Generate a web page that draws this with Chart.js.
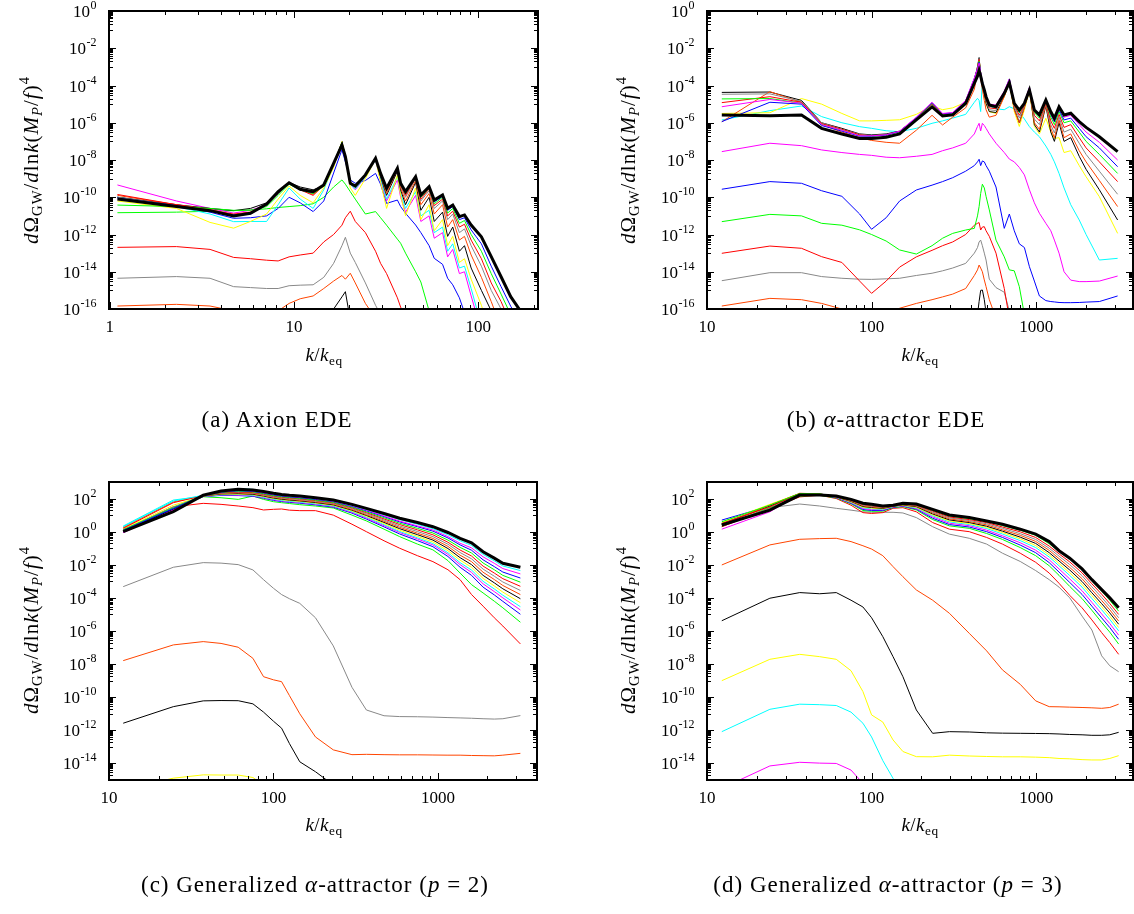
<!DOCTYPE html>
<html>
<head>
<meta charset="utf-8">
<script src="https://cdn.jsdelivr.net/npm/chart.js@4.4.0/dist/chart.umd.min.js"></script>
<style>
  body { margin: 0; background: #fff; width: 1134px; height: 914px; position: relative; overflow: hidden;
         font-family: "Liberation Serif", "DejaVu Serif", serif; color: #000; }
  canvas { position: absolute; }
  .ylab, .xlab, .cap { position: absolute; white-space: nowrap; transform: translate(-50%, -50%); }
  .ylab { font-size: 21px; letter-spacing: 1px; transform: translate(-50%, -50%) rotate(-90deg); }
  .xlab { font-size: 19px; letter-spacing: 0.5px; }
  .cap { font-size: 23px; letter-spacing: 1px; }
  sub { font-size: 70%; vertical-align: -0.3em; line-height: 0; }
  sup { font-size: 70%; vertical-align: 0.6em; line-height: 0; }
</style>
</head>
<body>
<canvas id="ca" width="567" height="457" style="left:0;top:0"></canvas>
<canvas id="cb" width="567" height="457" style="left:567px;top:0"></canvas>
<canvas id="cc" width="567" height="457" style="left:0;top:457px"></canvas>
<canvas id="cd" width="567" height="457" style="left:567px;top:457px"></canvas>

<div class="ylab" style="left:31px;top:160px"><i>d</i>Ω<sub>GW</sub>/<i>d</i>ln<i>k</i>(<i>M</i><sub><i>P</i></sub>/<i>f</i>)<sup>4</sup></div>
<div class="ylab" style="left:628px;top:160px"><i>d</i>Ω<sub>GW</sub>/<i>d</i>ln<i>k</i>(<i>M</i><sub><i>P</i></sub>/<i>f</i>)<sup>4</sup></div>
<div class="ylab" style="left:31px;top:630px"><i>d</i>Ω<sub>GW</sub>/<i>d</i>ln<i>k</i>(<i>M</i><sub><i>P</i></sub>/<i>f</i>)<sup>4</sup></div>
<div class="ylab" style="left:628px;top:630px"><i>d</i>Ω<sub>GW</sub>/<i>d</i>ln<i>k</i>(<i>M</i><sub><i>P</i></sub>/<i>f</i>)<sup>4</sup></div>

<div class="xlab" style="left:324px;top:355px"><i>k</i>/<i>k</i><sub>eq</sub></div>
<div class="xlab" style="left:920px;top:355px"><i>k</i>/<i>k</i><sub>eq</sub></div>
<div class="xlab" style="left:324px;top:825px"><i>k</i>/<i>k</i><sub>eq</sub></div>
<div class="xlab" style="left:920px;top:825px"><i>k</i>/<i>k</i><sub>eq</sub></div>

<div class="cap" style="left:277px;top:420px">(a) Axion EDE</div>
<div class="cap" style="left:886px;top:420px">(b) <i>α</i>-attractor EDE</div>
<div class="cap" style="left:315px;top:885px">(c) Generalized <i>α</i>-attractor (<i>p</i> = 2)</div>
<div class="cap" style="left:888px;top:885px">(d) Generalized <i>α</i>-attractor (<i>p</i> = 3)</div>

<script>
// all curve values are log10 of dOmega_GW/dlnk (M_P/f)^4
// k/k_eq grids, one per panel

// (a) Axion EDE
const kA = [1.1, 2.3, 3.5, 4.7, 5.8, 7.1, 8.2, 9.4, 10.8, 12.7, 14.5, 16.4, 18.2, 19.0, 20.2, 21.5, 24.4, 27.7, 29.5, 31.8,
  36.4, 37.9, 40.3, 45.7, 48.8, 54.1, 57.7, 64, 68.2, 72.7, 79, 84.2, 91.5, 104, 117.6, 133, 150, 168];
const a_thick = [-10.1, -10.5, -10.72, -11.0, -10.86, -10.36, -9.7, -9.22, -9.57, -9.7, -9.34, -8.18, -7.2, -7.82, -9.25, -9.4, -8.8, -7.91, -8.72, -9.52,
  -8.45, -9.25, -9.7, -8.9, -9.88, -9.43, -10.15, -9.88, -10.59, -10.42, -11.04, -10.95, -11.49, -12.12, -13.19, -14.27, -15.34, -16.05];
const a_black0 = [null, null, null, null, null, null, null, null, null, null, -17, -16.0, -15.35, -15.07, -16.6];
const a_orangered0 = [-15.84, -15.75, -15.84, -16.1, -16.3, -16.3, -16.1, -15.7, -15.45, -15.3, -14.9, -14.5, -14.2, -14.4, -14.08, -14.6, -15.7, -16.5];
const a_gray0 = [-14.35, -14.26, -14.35, -14.8, -14.85, -14.9, -14.9, -14.75, -14.72, -14.7, -14.3, -13.55, -12.6, -12.15, -13.0, -13.5, -14.6, -15.8, -16.3];
const a_red0 = [-12.69, -12.65, -12.8, -13.23, -13.3, -13.38, -13.42, -13.2, -13.1, -13.0, -12.4, -12.0, -11.5, -11.1, -10.75, -11.3, -11.9, -12.9, -13.55, -14.1,
  -15.4, -15.9, -16.5];
const a_green0 = [-10.83, -10.8, -10.75, -10.72, -10.68, -10.62, -10.55, -10.5, -10.45, -10.35, -10.0, -9.45, -9.07, -9.3, -9.7, -10.1, -10.9, -10.77, -11.1, -11.5,
  -12.25, -12.47, -13.0, -14.0, -14.55, -16.1];
const a_blue1 = [-10.0, -10.45, -10.8, -11.13, -11.1, -11.0, -10.6, -10.0, -10.3, -10.77, -10.2, -8.7, -7.45, -8.1, -9.07, -9.25, -9.1, -8.72, -9.3, -10.33,
  -10.15, -10.5, -10.86, -11.49, -11.9, -12.6, -13.28, -13.6, -14.35, -14.7, -15.4, -16.2];
const a_magenta1 = [-9.34, -10.2, -10.6, -10.85, -10.7, -10.4, -9.8, -9.2, -9.55, -9.75, -9.3, -8.3, -7.1, -7.9, -9.3, -9.6, -8.9, -8.0, -9.1, -10.2,
  -9.07, -10.0, -10.8, -9.9, -11.3, -11.0, -12.2, -11.9, -13.2, -12.8, -14.1, -14.0, -15.3, -17.2];
const a_cyan1 = [-10.0, -10.5, -10.9, -11.31, -11.3, -11.3, -10.4, -9.5, -10.1, -10.6, -9.6, -8.3, -7.1, -7.9, -9.3, -9.55, -8.9, -8.0, -9.0, -10.1,
  -8.9, -9.8, -10.6, -9.7, -11.0, -10.7, -11.9, -11.6, -12.9, -12.5, -13.8, -13.7, -14.9, -16.9];
const a_yellow1 = [-10.2, -10.6, -11.35, -11.66, -11.3, -10.9, -10.1, -9.4, -9.9, -10.3, -9.5, -8.4, -7.0, -7.8, -9.5, -9.9, -9.0, -7.95, -9.2, -10.6,
  -8.8, -9.9, -11.0, -9.5, -11.2, -10.4, -11.8, -11.2, -12.6, -12.1, -13.5, -13.3, -14.4, -15.8, -17.5];
const a_black1 = [-10.0, -10.4, -10.6, -10.72, -10.6, -10.3, -9.8, -9.2, -9.45, -9.6, -9.4, -8.2, -7.15, -7.8, -9.2, -9.4, -8.8, -7.9, -8.9, -9.9,
  -8.6, -9.6, -10.4, -9.2, -10.7, -10.0, -11.3, -10.8, -12.1, -11.6, -12.9, -12.6, -13.8, -15.0, -16.1];
const a_orangered1 = [-9.9, -10.4, -10.65, -10.95, -10.8, -10.4, -9.75, -9.2, -9.55, -9.85, -9.4, -8.2, -7.1, -7.8, -9.2, -9.4, -8.8, -7.9, -8.8, -9.8,
  -8.5, -9.5, -10.2, -9.1, -10.4, -9.8, -10.9, -10.4, -11.6, -11.2, -12.3, -12.1, -13.1, -14.3, -15.6, -17.0];
const a_gray1 = [-10.0, -10.45, -10.7, -10.95, -10.85, -10.4, -9.75, -9.25, -9.6, -9.8, -9.35, -8.2, -7.1, -7.8, -9.25, -9.4, -8.8, -7.9, -8.75, -9.7,
  -8.5, -9.4, -10.0, -9.0, -10.2, -9.65, -10.6, -10.2, -11.2, -10.9, -11.9, -11.7, -12.6, -13.7, -15.0, -16.0, -17.2];
const a_red1 = [-9.85, -10.4, -10.7, -10.9, -10.8, -10.35, -9.7, -9.2, -9.6, -9.9, -9.35, -8.2, -7.05, -7.8, -9.25, -9.4, -8.8, -7.9, -8.75, -9.65,
  -8.5, -9.35, -9.9, -8.95, -10.1, -9.55, -10.45, -10.1, -11.0, -10.75, -11.6, -11.45, -12.3, -13.3, -14.6, -15.6, -16.8];
const a_green1 = [-10.42, -10.5, -10.6, -10.7, -10.7, -10.5, -9.9, -9.3, -9.6, -9.8, -9.4, -8.2, -7.05, -7.8, -9.25, -9.4, -8.8, -7.9, -8.72, -9.6,
  -8.45, -9.3, -9.8, -8.92, -10.0, -9.5, -10.35, -10.0, -10.85, -10.6, -11.4, -11.25, -12.0, -12.9, -14.1, -15.2, -16.3];
const a_blue2 = [-10.05, -10.45, -10.75, -10.95, -10.9, -10.4, -9.75, -9.25, -9.6, -9.75, -9.35, -8.2, -7.1, -7.82, -9.25, -9.4, -8.8, -7.9, -8.72, -9.55,
  -8.45, -9.27, -9.75, -8.9, -9.95, -9.45, -10.25, -9.95, -10.7, -10.5, -11.2, -11.1, -11.75, -12.5, -13.7, -14.8, -15.85, -16.7];

// (b) alpha-attractor EDE
const kB = [12.3, 24.1, 37.5, 49.7, 66, 84.6, 100, 122.6, 148, 187, 233, 270, 311, 373, 421, 440, 450, 460, 471, 484,
  496, 519, 570, 640, 687, 736, 790, 848, 910, 975, 1046, 1145, 1227, 1290, 1377, 1477, 1622, 1826, 2010, 2420, 3125];
const b_thick = [-5.58, -5.62, -5.58, -6.3, -6.6, -6.84, -6.85, -6.78, -6.6, -5.85, -5.15, -5.64, -5.58, -4.96, -3.88, -3.5, -3.2, -3.5, -3.9, -4.24,
  -4.6, -5.05, -5.14, -4.42, -3.85, -4.96, -5.32, -4.96, -4.24, -5.32, -5.58, -4.78, -5.41, -5.76, -5.14, -5.58, -5.49, -5.94, -6.25, -6.75, -7.55];
const b_black0 = [null, null, null, null, null, null, null, null, null, null, null, null, null, null, -17, -16.3, -15.6, -15.0, -14.98, -15.5, -16.2];
const b_orangered0 = [-15.84, -15.43, -15.5, -15.7, -16.0, -16.3, -16.4, -16.3, -15.96, -15.7, -15.5, -15.35, -15.2, -14.9, -14.2, -13.9, -13.64, -13.8, -14.0, -14.44,
  -14.8, -15.5, -16.5];
const b_gray0 = [-14.48, -14.05, -14.05, -14.26, -14.35, -14.4, -14.41, -14.38, -14.35, -14.2, -14.08, -13.95, -13.8, -13.55, -13.0, -12.7, -12.4, -12.3, -12.6, -13.0,
  -13.37, -14.4, -14.85, -15.1, -16.1];
const b_red0 = [-13.01, -12.62, -12.74, -13.19, -13.5, -14.5, -15.16, -14.5, -13.75, -13.2, -12.85, -12.6, -12.4, -12.0, -11.5, -11.4, -11.36, -11.76, -11.6, -11.58,
  -11.8, -12.1, -13.0, -14.9, -16.5];
const b_green0 = [-11.31, -10.92, -11.0, -11.4, -11.5, -11.75, -12.0, -12.35, -12.83, -13.05, -12.6, -12.2, -11.94, -11.76, -11.67, -11.0, -10.5, -9.8, -9.3, -9.5,
  -9.95, -10.68, -12.3, -13.2, -13.9, -13.95, -14.8, -16.3];
const b_blue0 = [-9.57, -9.16, -9.25, -9.65, -9.95, -10.9, -11.72, -11.1, -10.2, -9.61, -9.35, -9.16, -8.95, -8.6, -8.3, -8.1, -7.96, -8.3, -8.05, -8.1,
  -8.3, -8.6, -9.45, -11.67, -10.9, -11.8, -12.5, -12.7, -13.73, -14.5, -15.3, -15.55, -15.6, -15.62, -15.65, -15.66, -15.66, -15.65, -15.63, -15.6, -15.3];
const b_magenta0 = [-7.55, -7.1, -7.23, -7.46, -7.6, -7.7, -7.75, -7.85, -7.88, -7.8, -7.7, -7.5, -7.35, -7.1, -6.6, -6.2, -6.03, -6.44, -6.03, -6.15,
  -6.3, -6.6, -7.1, -7.6, -7.95, -8.1, -8.4, -8.8, -9.6, -10.3, -10.86, -11.4, -11.8, -12.3, -13.0, -14.0, -14.45, -14.53, -14.53, -14.5, -14.23];
const b_cyan0 = [-5.85, -5.35, -5.1, -5.67, -6.0, -6.21, -6.3, -6.43, -6.48, -6.3, -6.03, -5.9, -5.75, -5.55, -4.9, -4.69, -4.8, -5.4, -3.75, -4.2,
  -5.0, -5.1, -5.25, -5.3, -5.14, -5.25, -5.41, -5.8, -6.21, -6.5, -6.75, -7.25, -7.7, -8.1, -8.72, -9.5, -10.4, -11.22, -12.0, -13.37, -13.28];
const b_yellow1 = [-5.5, -5.46, -4.7, -5.0, -5.5, -5.9, -5.9, -5.87, -5.84, -5.55, -5.1, -5.3, -5.2, -4.9, -3.9, -3.0, -2.6, -3.3, -3.9, -4.5,
  -5.0, -5.4, -5.5, -4.6, -3.85, -5.4, -6.2, -5.3, -4.3, -6.2, -6.6, -5.76, -6.5, -6.84, -6.8, -7.6, -7.5, -8.3, -8.9, -9.97, -11.94];
const b_black1 = [-4.37, -4.35, -4.8, -6.0, -6.3, -6.6, -6.65, -6.6, -6.45, -5.75, -5.0, -5.6, -5.55, -4.92, -3.75, -3.0, -2.5, -3.45, -4.0, -4.45,
  -4.95, -5.4, -5.45, -4.55, -3.8, -5.25, -6.0, -5.15, -4.25, -6.1, -6.5, -5.1, -6.5, -7.0, -6.0, -7.0, -6.8, -7.8, -8.5, -9.6, -11.22];
const b_orangered1 = [-5.95, -4.33, -4.9, -6.1, -6.5, -6.8, -6.95, -7.05, -7.1, -6.4, -5.6, -6.12, -5.7, -5.2, -4.2, -3.3, -2.8, -3.6, -4.2, -4.8,
  -5.3, -5.7, -5.6, -4.6, -3.82, -5.3, -6.0, -5.2, -4.25, -6.0, -6.35, -5.05, -6.3, -6.8, -5.85, -6.8, -6.6, -7.5, -8.1, -9.1, -10.5];
const b_gray1 = [-4.47, -4.45, -4.85, -6.0, -6.35, -6.62, -6.68, -6.64, -6.48, -5.76, -5.0, -5.6, -5.55, -4.9, -3.7, -3.0, -2.55, -3.4, -3.95, -4.4,
  -4.85, -5.3, -5.35, -4.5, -3.78, -5.15, -5.75, -5.1, -4.22, -5.8, -6.1, -5.0, -6.1, -6.55, -5.7, -6.5, -6.35, -7.1, -7.7, -8.6, -9.84];
const b_red1 = [-4.92, -4.6, -4.9, -6.05, -6.35, -6.65, -6.7, -6.65, -6.48, -5.74, -4.97, -5.58, -5.52, -4.88, -3.68, -3.05, -2.6, -3.35, -3.9, -4.35,
  -4.75, -5.2, -5.25, -4.45, -3.75, -5.05, -5.6, -5.05, -4.2, -5.6, -5.9, -4.95, -5.9, -6.3, -5.55, -6.25, -6.1, -6.8, -7.35, -8.1, -9.16];
const b_green1 = [-4.72, -4.7, -4.95, -6.1, -6.4, -6.7, -6.72, -6.66, -6.48, -5.73, -4.95, -5.55, -5.5, -4.85, -3.65, -3.1, -2.7, -3.3, -3.85, -4.25,
  -4.65, -5.1, -5.15, -4.4, -3.7, -5.0, -5.45, -5.0, -4.15, -5.45, -5.75, -4.85, -5.7, -6.1, -5.4, -6.0, -5.9, -6.5, -7.0, -7.7, -8.72];
const b_blue1 = [-5.94, -4.9, -5.0, -6.15, -6.45, -6.72, -6.72, -6.66, -6.47, -5.72, -4.92, -5.52, -5.47, -4.82, -3.62, -3.1, -2.75, -3.3, -3.8, -4.2,
  -4.6, -5.05, -5.1, -4.35, -3.65, -4.95, -5.35, -4.95, -4.12, -5.35, -5.65, -4.8, -5.55, -5.95, -5.3, -5.85, -5.75, -6.3, -6.75, -7.35, -8.36];
const b_magenta1 = [-5.14, -4.75, -4.95, -6.1, -6.4, -6.7, -6.7, -6.65, -6.45, -5.7, -4.9, -5.5, -5.45, -4.8, -3.6, -3.1, -2.8, -3.3, -3.8, -4.2,
  -4.55, -5.0, -5.05, -4.3, -3.65, -4.9, -5.3, -4.9, -4.1, -5.3, -5.6, -4.75, -5.5, -5.85, -5.2, -5.7, -5.6, -6.1, -6.5, -7.05, -8.0];

// (c) generalized alpha-attractor, p = 2
const kC = [12.2, 24.6, 37.4, 48, 61, 75, 87, 100, 112, 125, 144.5, 180, 231, 300, 367, 470, 585, 750, 932, 1150, 1363, 1600, 1880, 2200, 2480, 3170];
const c_thick = [0.0, 1.21, 2.21, 2.45, 2.56, 2.52, 2.42, 2.32, 2.25, 2.2, 2.15, 2.05, 1.91, 1.65, 1.41, 1.1, 0.81, 0.55, 0.3, -0.05, -0.4, -0.67, -1.21, -1.6, -1.91, -2.15];
const c_yellow0 = [-15.6, -14.89, -14.69, -14.7, -14.7, -14.85, -15.3];
const c_black0 = [-11.57, -10.57, -10.22, -10.2, -10.21, -10.4, -10.9, -11.45, -11.87, -12.8, -13.9, -14.5, -15.3];
const c_orangered0 = [-7.79, -6.84, -6.64, -6.75, -6.98, -7.65, -8.76, -8.95, -9.06, -9.9, -11.0, -12.4, -13.18, -13.47, -13.45, -13.47, -13.48, -13.48, -13.49, -13.5,
  -13.5, -13.52, -13.53, -13.54, -13.5, -13.39];
const c_gray0 = [-3.32, -2.15, -1.87, -1.9, -1.99, -2.31, -2.9, -3.42, -3.8, -4.05, -4.33, -5.2, -6.9, -9.4, -10.77, -11.12, -11.17, -11.18, -11.2, -11.23,
  -11.25, -11.27, -11.3, -11.32, -11.3, -11.11];
const c_red0 = [0.1, 1.5, 1.71, 1.65, 1.55, 1.45, 1.31, 1.35, 1.37, 1.3, 1.27, 1.27, 1.0, 0.45, 0.0, -0.55, -1.0, -1.45, -1.81, -2.3, -2.9, -3.8, -4.5, -5.2, -5.7, -6.78];
const c_green0 = [0.0, 1.35, 2.11, 2.05, 1.95, 2.15, 1.95, 1.81, 1.75, 1.7, 1.63, 1.55, 1.43, 1.0, 0.65, 0.15, -0.3, -0.75, -1.1, -1.75, -2.5, -3.2, -3.7, -4.2, -4.6, -5.47];
const c_blue1 = [0.02, 1.4, 2.12, 2.19, 2.18, 2.14, 2.02, 1.89, 1.82, 1.77, 1.72, 1.62, 1.48, 1.12, 0.76, 0.29, -0.14, -0.54, -0.91, -1.5, -2.15, -2.64, -3.35, -3.82, -4.21, -4.99];
const c_magenta1 = [-0.06, 1.3, 2.13, 2.22, 2.21, 2.17, 2.05, 1.93, 1.86, 1.81, 1.76, 1.66, 1.52, 1.17, 0.82, 0.36, -0.05, -0.44, -0.8, -1.37, -1.99, -2.46, -3.15, -3.62, -4.0, -4.73];
const c_cyan1 = [0.34, 1.91, 2.14, 2.23, 2.24, 2.2, 2.08, 1.96, 1.89, 1.84, 1.79, 1.69, 1.55, 1.21, 0.87, 0.42, 0.01, -0.37, -0.72, -1.27, -1.87, -2.32, -3.0, -3.46, -3.84, -4.53];
const c_yellow1 = [0.15, 1.6, 2.15, 2.26, 2.27, 2.23, 2.12, 2.0, 1.93, 1.88, 1.83, 1.73, 1.59, 1.25, 0.92, 0.49, 0.09, -0.28, -0.62, -1.15, -1.72, -2.15, -2.82, -3.28, -3.65, -4.29];
const c_black1 = [0.05, 1.35, 2.15, 2.28, 2.3, 2.26, 2.15, 2.03, 1.96, 1.91, 1.86, 1.76, 1.62, 1.3, 0.98, 0.56, 0.18, -0.18, -0.51, -1.02, -1.57, -1.99, -2.64, -3.09, -3.45, -4.05];
const c_orangered1 = [0.25, 1.8, 2.16, 2.3, 2.34, 2.3, 2.19, 2.07, 2.0, 1.95, 1.9, 1.8, 1.66, 1.34, 1.03, 0.63, 0.26, -0.09, -0.41, -0.89, -1.42, -1.81, -2.45, -2.89, -3.25, -3.8];
const c_gray1 = [0.1, 1.5, 2.17, 2.32, 2.37, 2.33, 2.22, 2.11, 2.04, 1.99, 1.94, 1.84, 1.7, 1.39, 1.09, 0.7, 0.34, 0.01, -0.3, -0.76, -1.26, -1.64, -2.26, -2.69, -3.04, -3.55];
const c_red1 = [0.2, 1.75, 2.18, 2.35, 2.4, 2.36, 2.26, 2.15, 2.08, 2.03, 1.98, 1.88, 1.74, 1.44, 1.15, 0.77, 0.43, 0.11, -0.19, -0.64, -1.11, -1.47, -2.08, -2.5, -2.84, -3.3];
const c_green1 = [0.12, 1.45, 2.18, 2.37, 2.44, 2.4, 2.29, 2.18, 2.11, 2.06, 2.01, 1.91, 1.77, 1.48, 1.2, 0.84, 0.51, 0.2, -0.08, -0.51, -0.95, -1.29, -1.89, -2.3, -2.64, -3.05];
const c_blue2 = [0.08, 1.4, 2.19, 2.39, 2.47, 2.43, 2.33, 2.22, 2.15, 2.1, 2.05, 1.95, 1.81, 1.53, 1.26, 0.91, 0.59, 0.3, 0.03, -0.38, -0.8, -1.12, -1.7, -2.11, -2.44, -2.8];
const c_magenta2 = [-0.05, 1.3, 2.2, 2.41, 2.51, 2.47, 2.36, 2.26, 2.19, 2.14, 2.09, 1.99, 1.84, 1.56, 1.3, 0.95, 0.64, 0.35, 0.1, -0.3, -0.7, -0.98, -1.52, -1.91, -2.23, -2.55];
const c_cyan2 = [0.3, 1.85, 2.2, 2.43, 2.6, 2.55, 2.39, 2.29, 2.22, 2.17, 2.12, 2.01, 1.86, 1.59, 1.34, 1.02, 0.73, 0.45, 0.18, -0.19, -0.55, -0.83, -1.37, -1.76, -2.07, -2.35];

// (d) generalized alpha-attractor, p = 3
const kD = [12.3, 24.1, 36.6, 48.4, 61, 75, 88.6, 100, 117, 135, 155, 187, 235, 297, 392, 500, 624, 800, 993, 1200, 1377, 1600, 1900, 2180, 2500, 2800, 3170];
const d_thick = [0.4, 1.3, 2.21, 2.21, 2.15, 1.95, 1.72, 1.65, 1.55, 1.6, 1.71, 1.67, 1.35, 1.01, 0.85, 0.65, 0.45, 0.15, -0.15, -0.6, -1.15, -1.6, -2.25, -2.9, -3.5, -4.0, -4.6];
const d_magenta0 = [-15.5, -14.15, -13.93, -13.98, -14.0, -14.4, -15.2];
const d_cyan0 = [-12.08, -10.73, -10.42, -10.45, -10.5, -10.9, -11.57, -12.4, -13.83, -14.9, -15.5];
const d_yellow0 = [-9.0, -7.71, -7.41, -7.55, -7.71, -8.4, -9.66, -11.07, -11.5, -12.58, -13.28, -13.59, -13.6, -13.5, -13.55, -13.58, -13.6, -13.6, -13.62, -13.65,
  -13.7, -13.72, -13.77, -13.79, -13.79, -13.7, -13.53];
const d_black0 = [-5.38, -4.02, -3.68, -3.75, -3.68, -4.14, -4.55, -5.2, -6.34, -7.55, -8.76, -10.77, -12.18, -12.08, -12.1, -12.15, -12.17, -12.18, -12.19, -12.2,
  -12.22, -12.25, -12.27, -12.3, -12.3, -12.27, -12.12];
const d_orangered0 = [-2.01, -0.8, -0.46, -0.42, -0.4, -0.6, -0.85, -1.05, -1.45, -2.11, -2.72, -3.52, -4.14, -4.93, -6.14, -7.2, -8.35, -9.22, -10.22, -10.57,
  -10.58, -10.6, -10.62, -10.64, -10.67, -10.62, -10.42];
const d_gray0 = [0.3, 1.45, 1.67, 1.55, 1.41, 1.3, 1.2, 1.17, 1.17, 1.17, 1.13, 0.85, 0.3, -0.15, -0.4, -0.75, -1.3, -1.8, -2.35, -2.9, -3.35, -4.0, -5.1, -5.94, -7.5, -8.1, -8.46];
const d_red1 = [0.3, 1.4, 2.1, 2.2, 2.0, 1.6, 1.15, 1.1, 1.15, 1.41, 1.45, 1.2, 0.55, 0.15, 0.0, -0.35, -0.75, -1.3, -1.85, -2.5, -3.12, -3.85, -4.6, -5.33, -6.1, -6.7, -7.41];
const d_green1 = [0.35, 1.45, 2.15, 2.2, 2.03, 1.68, 1.28, 1.23, 1.24, 1.45, 1.51, 1.31, 0.73, 0.35, 0.2, -0.11, -0.47, -0.96, -1.45, -2.06, -2.64, -3.31, -4.04, -4.75, -5.48, -6.07, -6.79];
const d_blue1 = [0.7, 1.55, 2.25, 2.25, 2.05, 1.72, 1.34, 1.28, 1.28, 1.47, 1.54, 1.36, 0.81, 0.43, 0.28, 0.0, -0.35, -0.81, -1.27, -1.87, -2.44, -3.07, -3.79, -4.5, -5.21, -5.79, -6.5];
const d_magenta1 = [0.15, 1.2, 2.3, 2.3, 2.06, 1.75, 1.39, 1.33, 1.32, 1.49, 1.56, 1.4, 0.89, 0.51, 0.36, 0.09, -0.25, -0.67, -1.12, -1.7, -2.25, -2.86, -3.57, -4.27, -4.97, -5.55, -6.25];
const d_cyan1 = [0.5, 1.6, 2.3, 2.28, 2.08, 1.78, 1.44, 1.38, 1.35, 1.51, 1.58, 1.44, 0.96, 0.59, 0.43, 0.19, -0.14, -0.54, -0.96, -1.53, -2.06, -2.65, -3.35, -4.04, -4.72, -5.3, -5.99];
const d_yellow1 = [0.55, 1.65, 2.3, 2.27, 2.09, 1.8, 1.48, 1.42, 1.38, 1.52, 1.6, 1.47, 1.01, 0.65, 0.49, 0.26, -0.05, -0.43, -0.84, -1.4, -1.92, -2.49, -3.18, -3.86, -4.53, -5.11, -5.79];
const d_black1 = [0.45, 1.55, 2.3, 2.27, 2.1, 1.83, 1.52, 1.46, 1.41, 1.53, 1.62, 1.51, 1.07, 0.71, 0.55, 0.33, 0.03, -0.33, -0.71, -1.27, -1.77, -2.32, -3.01, -3.69, -4.35, -4.91, -5.59];
const d_orangered1 = [0.45, 1.6, 2.32, 2.28, 2.11, 1.85, 1.56, 1.5, 1.44, 1.55, 1.64, 1.54, 1.13, 0.77, 0.61, 0.41, 0.11, -0.22, -0.59, -1.13, -1.63, -2.16, -2.84, -3.51, -4.16, -4.72, -5.4];
const d_gray1 = [0.42, 1.4, 2.25, 2.25, 2.12, 1.88, 1.6, 1.53, 1.47, 1.56, 1.66, 1.57, 1.18, 0.83, 0.67, 0.48, 0.2, -0.12, -0.47, -1.0, -1.48, -1.99, -2.66, -3.33, -3.97, -4.53, -5.2];
const d_red2 = [0.5, 1.5, 2.28, 2.25, 2.13, 1.9, 1.64, 1.57, 1.49, 1.57, 1.67, 1.6, 1.24, 0.89, 0.73, 0.55, 0.28, -0.01, -0.35, -0.87, -1.34, -1.83, -2.49, -3.15, -3.78, -4.34, -5.0];
const d_green2 = [0.6, 1.6, 2.3, 2.28, 2.14, 1.93, 1.68, 1.61, 1.52, 1.59, 1.69, 1.64, 1.29, 0.95, 0.79, 0.63, 0.37, 0.09, -0.22, -0.73, -1.19, -1.66, -2.31, -2.98, -3.59, -4.14, -4.8];

// tick labels
const xTicksA = [1, 10, 100];
const xTicksBCD = [10, 100, 1000];
const yExpAB = [0, -2, -4, -6, -8, -10, -12, -14, -16];
const yExpCD = [2, 0, -2, -4, -6, -8, -10, -12, -14];

const C = {
  red: '#ff0000', green: '#00ff00', blue: '#0000ff', magenta: '#ff00ff', cyan: '#00ffff',
  yellow: '#ffff00', black: '#000000', orangered: '#ff4500', gray: '#888888'
};

// first entry is drawn on top
const seriesA = [
  [a_thick, 'black', 3], [a_blue2, 'blue'], [a_green1, 'green'], [a_red1, 'red'], [a_gray1, 'gray'],
  [a_orangered1, 'orangered'], [a_black1, 'black'], [a_yellow1, 'yellow'], [a_cyan1, 'cyan'], [a_magenta1, 'magenta'],
  [a_blue1, 'blue'], [a_green0, 'green'], [a_red0, 'red'], [a_gray0, 'gray'], [a_orangered0, 'orangered'], [a_black0, 'black']
];
const seriesB = [
  [b_thick, 'black', 3], [b_magenta1, 'magenta'], [b_blue1, 'blue'], [b_green1, 'green'], [b_red1, 'red'], [b_gray1, 'gray'],
  [b_orangered1, 'orangered'], [b_black1, 'black'], [b_yellow1, 'yellow'], [b_cyan0, 'cyan'], [b_magenta0, 'magenta'],
  [b_blue0, 'blue'], [b_green0, 'green'], [b_red0, 'red'], [b_gray0, 'gray'], [b_orangered0, 'orangered'], [b_black0, 'black']
];
const seriesC = [
  [c_thick, 'black', 3], [c_cyan2, 'cyan'], [c_magenta2, 'magenta'], [c_blue2, 'blue'], [c_green1, 'green'], [c_red1, 'red'],
  [c_gray1, 'gray'], [c_orangered1, 'orangered'], [c_black1, 'black'], [c_yellow1, 'yellow'], [c_cyan1, 'cyan'],
  [c_magenta1, 'magenta'], [c_blue1, 'blue'], [c_green0, 'green'], [c_red0, 'red'], [c_gray0, 'gray'],
  [c_orangered0, 'orangered'], [c_black0, 'black'], [c_yellow0, 'yellow']
];
const seriesD = [
  [d_thick, 'black', 3], [d_green2, 'green'], [d_red2, 'red'], [d_gray1, 'gray'], [d_orangered1, 'orangered'], [d_black1, 'black'],
  [d_yellow1, 'yellow'], [d_cyan1, 'cyan'], [d_magenta1, 'magenta'], [d_blue1, 'blue'], [d_green1, 'green'], [d_red1, 'red'],
  [d_gray0, 'gray'], [d_orangered0, 'orangered'], [d_black0, 'black'], [d_yellow0, 'yellow'], [d_cyan0, 'cyan'], [d_magenta0, 'magenta']
];

// frame, inward ticks and "10^n" labels, all placed through the chart's scales
const framePlugin = {
  id: 'frame',
  afterDatasetsDraw(chart, args, opts) {
    const ctx = chart.ctx, a = chart.chartArea, xs = chart.scales.x, ys = chart.scales.y;
    ctx.save();
    ctx.strokeStyle = '#000';
    ctx.lineWidth = 1;
    ctx.beginPath();
    const lo = Math.floor(Math.log10(xs.min)), hi = Math.ceil(Math.log10(xs.max));
    for (let e = lo; e <= hi; e++) {
      for (let j = 1; j <= 9; j++) {
        const v = j * Math.pow(10, e);
        if (v < xs.min * 0.999 || v > xs.max) continue;
        const p = Math.round(xs.getPixelForValue(v)) + 0.5;
        const len = j === 1 ? 7 : 4;
        ctx.moveTo(p, a.bottom); ctx.lineTo(p, a.bottom - len);
        ctx.moveTo(p, a.top); ctx.lineTo(p, a.top + len);
      }
    }
    opts.yExps.forEach(e => {
      for (let j = 1; j <= 10; j++) {
        // major at 10^e, minor ticks in the decade just below it
        const v = j === 10 ? Math.pow(10, e) : j * Math.pow(10, e - 1);
        if (v < ys.min * 0.999 || v > ys.max * 1.001) continue;
        const p = Math.round(ys.getPixelForValue(v)) + 0.5;
        const len = j === 10 ? 7 : 4;
        ctx.moveTo(a.left, p); ctx.lineTo(a.left + len, p);
        ctx.moveTo(a.right, p); ctx.lineTo(a.right - len, p);
      }
    });
    ctx.stroke();
    ctx.lineWidth = 2;
    ctx.strokeRect(a.left, a.top, a.right - a.left, a.bottom - a.top);

    ctx.fillStyle = '#000';
    ctx.textBaseline = 'alphabetic';
    ctx.font = '17px "Liberation Serif"';
    ctx.textAlign = 'center';
    opts.xLabels.forEach(v => ctx.fillText(String(v), xs.getPixelForValue(v), a.bottom + 23));
    ctx.textAlign = 'left';
    opts.yExps.forEach(e => {
      const p = ys.getPixelForValue(Math.pow(10, e));
      ctx.font = '17px "Liberation Serif"';
      const w1 = ctx.measureText('10').width;
      ctx.font = '12px "Liberation Serif"';
      const w2 = ctx.measureText(String(e)).width;
      const x0 = a.left - 13 - w1 - w2;
      ctx.font = '17px "Liberation Serif"';
      ctx.fillText('10', x0, p + 6);
      ctx.font = '12px "Liberation Serif"';
      ctx.fillText(String(e), x0 + w1 + 0.5, p - 2);
    });
    ctx.restore();
  }
};

function makeChart(id, k, series, xRange, yRange, pad, xLabels, yExps) {
  const datasets = series.map(([vals, col, w]) => ({
    data: vals.map((v, i) => ({ x: k[i], y: v === null ? null : Math.pow(10, v) })),
    borderColor: C[col],
    borderWidth: w || 1,
    pointRadius: 0,
    fill: false,
    tension: 0,
    clip: 0
  }));
  return new Chart(document.getElementById(id), {
    type: 'line',
    data: { datasets },
    options: {
      responsive: false,
      animation: false,
      events: [],
      layout: { padding: pad },
      plugins: { legend: { display: false }, tooltip: { enabled: false }, frame: { xLabels, yExps } },
      scales: {
        x: { type: 'logarithmic', min: xRange[0], max: xRange[1], display: false },
        y: { type: 'logarithmic', min: yRange[0], max: yRange[1], display: false }
      }
    },
    plugins: [framePlugin]
  });
}

makeChart('ca', kA, seriesA, [0.99, 211], [1e-16, 1], { left: 109, right: 29, top: 11, bottom: 148 }, xTicksA, yExpAB);
makeChart('cb', kB, seriesB, [10, 3875], [1e-16, 1], { left: 140, right: 1, top: 11, bottom: 148 }, xTicksBCD, yExpAB);
makeChart('cc', kC, seriesC, [10, 4000], [1e-15, 1e3], { left: 109, right: 30, top: 25, bottom: 134 }, xTicksBCD, yExpCD);
makeChart('cd', kD, seriesD, [10, 3875], [1e-15, 1e3], { left: 140, right: 1, top: 25, bottom: 134 }, xTicksBCD, yExpCD);
</script>
</body>
</html>
